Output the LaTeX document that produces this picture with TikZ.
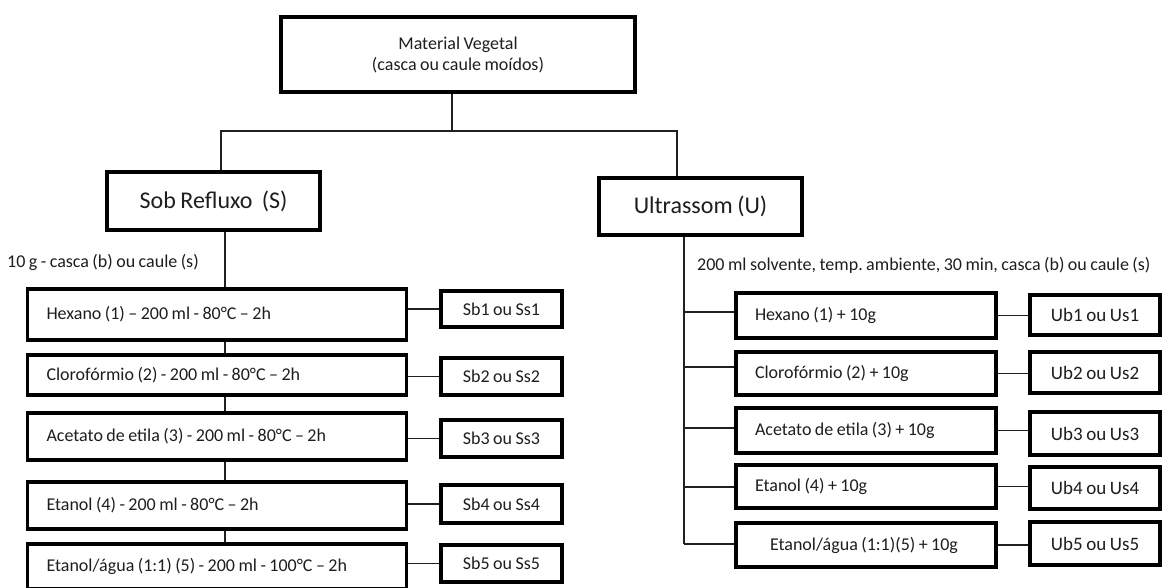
\documentclass[tikz,border=0pt]{standalone}
\usepackage{fontspec}
\setmainfont[WordSpace=0.85]{Carlito}
\frenchspacing
\definecolor{txt}{HTML}{1E1E1E}
\definecolor{ln}{HTML}{202020}
\begin{document}
\begin{tikzpicture}[x=1pt,y=-1pt,
  box/.style={draw=black, line width=3.3pt, inner sep=0pt, text=txt, font=\fontsize{18}{21}\selectfont},
  lstep/.style={box, minimum width=379pt, minimum height=#1, text width=341pt, inner xsep=19pt, align=flush left},
  rstep/.style={box, minimum width=260pt, minimum height=#1, text width=222pt, inner xsep=19pt, align=flush left},
  sres/.style={box, minimum width=121pt, minimum height=#1, align=flush center},
  ures/.style={box, minimum width=130pt, minimum height=#1, align=flush center, font=\fontsize{19}{22}\selectfont},
  head/.style={box, align=flush center, font=\fontsize{24}{28}\selectfont},
  lbl/.style={inner sep=0pt, text=txt, font=\fontsize{18}{21}\selectfont, anchor=west},
  conn/.style={draw=ln, line width=1.1pt}]
\path[use as bounding box, clip] (0,0) rectangle (1164,587);
\fill[white] (0,0) rectangle (1164,587);

% top
\node[box, align=flush center, minimum width=354pt, minimum height=75pt] (mat) at (458,54.5) {Material Vegetal\\(casca ou caule moídos)};
\node[head, minimum width=213pt, minimum height=58pt] (sob) at (213.5,201) {Sob Refluxo\ \ (S)};
\node[head, minimum width=203pt, minimum height=57pt] (ult) at (700.5,206.5) {Ultrassom (U)};

\coordinate (j1) at (452,131);
\coordinate (jL) at (221,131);
\coordinate (jR) at (677,131);
\draw[conn] (mat.south -| j1) -- (j1);
\draw[conn] (sob.north -| jL) -- (jL) -- (jR) -- (ult.north -| jR);

% labels
\node[lbl] (l1) at (7,262) {10 g - casca (b) ou caule (s)};
\node[lbl] (l2) at (697,265) {200 ml solvente, temp. ambiente, 30 min, casca (b) ou caule (s)};

% left column
\node[lstep=51pt] (h1) at (217,314.5) {Hexano (1) – 200 ml - 80°C – 2h};
\node[lstep=40pt] (c1) at (217,375) {Clorofórmio (2) - 200 ml - 80°C – 2h};
\node[lstep=47pt] (a1) at (217,436.5) {Acetato de etila (3) - 200 ml - 80°C – 2h};
\node[lstep=47pt] (e1) at (217,505.5) {Etanol (4) - 200 ml - 80°C – 2h};
\node[lstep=45pt] (w1) at (217,566.5) {Etanol/água (1:1) (5) - 200 ml - 100°C – 2h};

\node[sres=36pt] (sb1) at (501.5,309) {Sb1 ou Ss1};
\node[sres=37pt] (sb2) at (501.5,376.5) {Sb2 ou Ss2};
\node[sres=37pt] (sb3) at (501.5,438.5) {Sb3 ou Ss3};
\node[sres=38pt] (sb4) at (501.5,504) {Sb4 ou Ss4};
\node[sres=37pt] (sb5) at (501.5,563.5) {Sb5 ou Ss5};

\coordinate (sL) at (225,0);
\draw[conn] (sob.south -| sL) -- (h1.north -| sL);
\draw[conn] (h1.south -| sL) -- (c1.north -| sL);
\draw[conn] (c1.south -| sL) -- (a1.north -| sL);
\draw[conn] (a1.south -| sL) -- (e1.north -| sL);
\draw[conn] (e1.south -| sL) -- (w1.north -| sL);

\draw[conn] (h1.east |- sb1.west) -- (sb1.west);
\draw[conn] (c1.east |- sb2.west) -- (sb2.west);
\draw[conn] (a1.east |- sb3.west) -- (sb3.west);
\draw[conn] (e1.east |- sb4.west) -- (sb4.west);
\draw[conn] (w1.east |- sb5.west) -- (sb5.west);

% right column
\node[rstep=45pt] (h2) at (866,315.5) {Hexano (1) + 10g};
\node[rstep=43pt] (c2) at (866,373.5) {Clorofórmio (2) + 10g};
\node[rstep=45pt] (a2) at (866,430.5) {Acetato de etila (3) + 10g};
\node[rstep=43pt] (e2) at (866,486.5) {Etanol (4) + 10g};
\node[rstep=44pt] (w2) at (866,545) {\hspace*{15pt}Etanol/água (1:1)(5) + 10g};

\node[ures=40pt] (ub1) at (1095,315) {Ub1 ou Us1};
\node[ures=41pt] (ub2) at (1095,372.5) {Ub2 ou Us2};
\node[ures=43pt] (ub3) at (1095,433.5) {Ub3 ou Us3};
\node[ures=42pt] (ub4) at (1095,488) {Ub4 ou Us4};
\node[ures=43pt] (ub5) at (1095,543.5) {Ub5 ou Us5};

\coordinate (t1) at (684,312);
\coordinate (t2) at (684,367);
\coordinate (t3) at (684,428);
\coordinate (t4) at (684,487);
\coordinate (t5) at (684,544);
\draw[conn] (ult.south -| t1) -- (t5);
\draw[conn] (t1) -- (t1 -| h2.west);
\draw[conn] (t2) -- (t2 -| c2.west);
\draw[conn] (t3) -- (t3 -| a2.west);
\draw[conn] (t4) -- (t4 -| e2.west);
\draw[conn] (t5) -- (t5 -| w2.west);

\draw[conn] (h2.east) -- (h2.east -| ub1.west);
\draw[conn] (c2.east) -- (c2.east -| ub2.west);
\draw[conn] (a2.east) -- (a2.east -| ub3.west);
\draw[conn] (e2.east) -- (e2.east -| ub4.west);
\draw[conn] (w2.east) -- (w2.east -| ub5.west);
\end{tikzpicture}
\end{document}
